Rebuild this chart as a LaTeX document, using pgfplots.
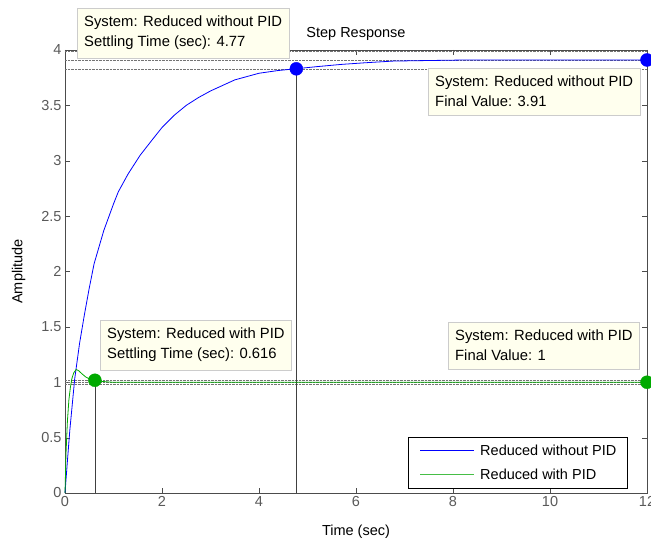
\documentclass[border=0pt]{standalone}
\usepackage{fontspec}
\setmainfont{Liberation Sans}
\usepackage{pgfplots}
\pgfplotsset{compat=1.18}
\definecolor{tipfill}{RGB}{255,255,238}
\definecolor{mgreen}{RGB}{0,170,0}
\definecolor{lgreen}{RGB}{70,190,70}
\tikzset{tip/.style={draw=black!20, fill=tipfill, align=left, inner xsep=7pt, inner ysep=8pt,
    font=\fontsize{14.8}{20}\selectfont, anchor=north west}}
\begin{document}
\begin{tikzpicture}[font=\fontsize{14.5}{17}\selectfont]
\useasboundingbox (0,0) rectangle (651pt,543pt);
\begin{axis}[
  at={(65pt,50pt)}, anchor=south west,
  scale only axis, width=582pt, height=443pt,
  xmin=0, xmax=12, ymin=0, ymax=4,
  xtick={0,2,...,12}, ytick={0,0.5,...,4},
  tick align=inside, major tick length=5pt,
  axis line style={black!70}, tick style={black!70},
  tick label style={text=black!65},
  /pgf/number format/assume math mode=true,
  title={Step Response}, xlabel={Time (sec)}, ylabel={Amplitude},
  xlabel style={yshift=-11pt}, ylabel style={yshift=9pt},
  clip=false,
]
% settling bands and markers
\addplot[black!55, densely dotted] coordinates {(0,3.99)(12,3.99)};
\addplot[black!55, densely dotted] coordinates {(0,3.91)(12,3.91)};
\addplot[black!55, densely dotted] coordinates {(0,3.83)(12,3.83)};
\addplot[black!55, densely dotted] coordinates {(0,1.02)(12,1.02)};
\addplot[black!55, densely dotted] coordinates {(0,1.00)(12,1.00)};
\addplot[black!55, densely dotted] coordinates {(0,0.98)(12,0.98)};
\addplot[black!75] coordinates {(4.77,0)(4.77,3.83)};
\addplot[black!75] coordinates {(0.616,0)(0.616,1.018)};

% Reduced without PID
\addplot[color=blue, line width=0.8pt] coordinates {
  (0,0)(0.05,0.29)(0.1,0.57)(0.2,1.03)(0.3,1.35)(0.4,1.61)(0.5,1.85)(0.6,2.07)
  (0.8,2.37)(1.0,2.61)(1.1,2.72)(1.3,2.88)(1.55,3.05)(1.8,3.19)(2.0,3.30)
  (2.25,3.41)(2.5,3.50)(2.75,3.57)(3.0,3.63)(3.25,3.68)(3.5,3.73)(3.75,3.76)
  (4.0,3.79)(4.4,3.815)(4.77,3.831)(5.2,3.85)(5.7,3.87)(6.2,3.885)(6.77,3.90)
  (7.5,3.905)(8.3,3.91)(12,3.91)};
% Reduced with PID
\addplot[color=mgreen, line width=0.8pt] coordinates {
  (0,0)(0.02,0.35)(0.05,0.65)(0.08,0.84)(0.11,0.95)(0.14,1.03)(0.18,1.085)
  (0.23,1.115)(0.28,1.105)(0.34,1.08)(0.42,1.05)(0.5,1.03)(0.616,1.018)
  (0.75,1.008)(0.9,1.002)(1.0,1.0)(12,1.0)};

\addplot[only marks, mark=*, mark size=6.5pt, blue] coordinates {(4.77,3.83)(12,3.91)};
\addplot[only marks, mark=*, mark size=6.5pt, mgreen] coordinates {(0.616,1.018)(12,1.0)};

\node[tip] at (axis cs:0.247,4.379) {System: Reduced without PID\\Settling Time (sec): 4.77};
\node[tip] at (axis cs:7.485,3.837) {System: Reduced without PID\\Final Value: 3.91};
\node[tip] at (axis cs:0.722,1.562) {System: Reduced with PID\\Settling Time (sec): 0.616};
\node[tip] at (axis cs:7.897,1.544) {System: Reduced with PID\\Final Value: 1};

% legend
\draw[black, line width=0.9pt, fill=white] (axis description cs:0.5893,0.0113) rectangle (axis description cs:0.9656,0.1264);
\draw[blue, line width=0.8pt] (axis description cs:0.61,0.0971) -- (axis description cs:0.7027,0.0971);
\draw[lgreen, line width=0.8pt] (axis description cs:0.61,0.0429) -- (axis description cs:0.7027,0.0429);
\node[anchor=west, inner sep=0pt] at (axis description cs:0.7131,0.0971) {Reduced without PID};
\node[anchor=west, inner sep=0pt] at (axis description cs:0.7131,0.0429) {Reduced with PID};
\end{axis}
\end{tikzpicture}
\end{document}
